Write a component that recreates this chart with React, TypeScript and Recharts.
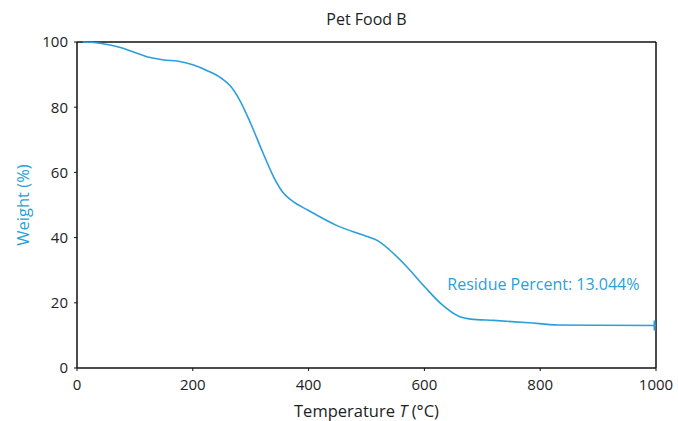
import React from "react";
import {
  LineChart,
  Line,
  XAxis,
  YAxis,
  ReferenceLine,
  ReferenceDot,
} from "recharts";

// TGA curve for Pet Food B: temperature (°C) vs remaining weight (%)
const temperatures = [
  10, 25, 50, 75, 100, 125, 150, 175, 200, 225, 250, 265, 280, 300, 320, 340,
  355, 370, 400, 450, 500, 520, 540, 570, 600, 630, 660, 680, 720, 780, 830,
  900, 1000,
];
const weights = [
  100, 99.9, 99.3, 98.3, 96.8, 95.3, 94.5, 94.1, 93.0, 91.2, 88.8, 86.5, 82.5,
  75.0, 66.5, 58.5, 54.0, 51.5, 48.3, 43.6, 40.4, 39.0, 36.2, 31.0, 25.0, 19.5,
  15.8, 15.0, 14.6, 13.9, 13.2, 13.1, 13.044,
];

const xTicks = [0, 200, 400, 600, 800, 1000];
const yTicks = [0, 20, 40, 60, 80, 100];

const residuePercent = 13.044;
const residueLabelT = 631;
const residueLabelW = 25.8;

const title = "Pet Food B";
const yLabel = "Weight (%)";

const BLUE = "#2a9fdc";
const FONT = "'Open Sans', 'DejaVu Sans', sans-serif";

const data = temperatures.map((t, i) => ({ t, w: weights[i] }));
const lastIndex = data.length - 1;

// short vertical cap marking the end of the run
const EndMarker = (props: any) => {
  const { cx, cy, index } = props;
  if (index !== lastIndex) return <g key={`d${index}`} />;
  return (
    <line
      key={`d${index}`}
      x1={cx - 1.5}
      x2={cx - 1.5}
      y1={cy - 5}
      y2={cy + 5}
      stroke={BLUE}
      strokeWidth={2}
    />
  );
};

export default function App() {
  const tickStyle = { fill: "#222", fontSize: 15, fontFamily: FONT };
  return (
    <div style={{ position: "absolute", left: 0, top: 0 }}>
      <LineChart
        width={678}
        height={421}
        data={data}
        margin={{ top: 42, right: 22, bottom: 13, left: 27 }}
        style={{ background: "#fff" }}
      >
        <XAxis
          dataKey="t"
          type="number"
          domain={[0, 1000]}
          ticks={xTicks}
          tickSize={3}
          tickMargin={8}
          height={40}
          axisLine={{ stroke: "#111", strokeWidth: 1.5 }}
          tickLine={{ stroke: "#111" }}
          tick={tickStyle}
          label={{
            content: (p: any) => {
              const vb = p.viewBox;
              return (
                <text
                  x={vb.x + vb.width / 2}
                  y={vb.y + 49}
                  textAnchor="middle"
                  fill="#222"
                  fontSize={16.5}
                  fontFamily={FONT}
                >
                  Temperature <tspan fontStyle="italic">T</tspan> (°C)
                </text>
              );
            },
          }}
        />
        <YAxis
          type="number"
          domain={[0, 100]}
          ticks={yTicks}
          tickSize={3}
          tickMargin={6}
          width={50}
          axisLine={{ stroke: "#111", strokeWidth: 1.5 }}
          tickLine={{ stroke: "#111" }}
          tick={tickStyle}
          label={{
            content: (p: any) => {
              const vb = p.viewBox;
              const x = vb.x - 5;
              const y = vb.y + vb.height / 2;
              return (
                <text
                  x={x}
                  y={y}
                  transform={`rotate(-90 ${x} ${y})`}
                  textAnchor="middle"
                  dominantBaseline="central"
                  fill={BLUE}
                  fontSize={16.5}
                  fontFamily={FONT}
                >
                  {yLabel}
                </text>
              );
            },
          }}
        />
        <ReferenceLine
          y={100}
          stroke="#111"
          strokeWidth={1.5}
          label={{
            value: title,
            position: "top",
            offset: 17,
            fill: "#222",
            fontSize: 16,
            fontFamily: FONT,
          }}
        />
        <ReferenceLine x={1000} stroke="#111" strokeWidth={1.5} />
        <Line
          dataKey="w"
          type="monotone"
          stroke={BLUE}
          strokeWidth={1.6}
          dot={EndMarker}
          activeDot={false}
          isAnimationActive={false}
        />
        <ReferenceDot
          x={residueLabelT}
          y={residueLabelW}
          r={0}
          fill="none"
          stroke="none"
          label={{
            value: `Residue Percent: ${residuePercent.toFixed(3)}%`,
            position: "right",
            fill: BLUE,
            fontSize: 16,
            fontFamily: FONT,
          }}
        />
      </LineChart>
    </div>
  );
}
